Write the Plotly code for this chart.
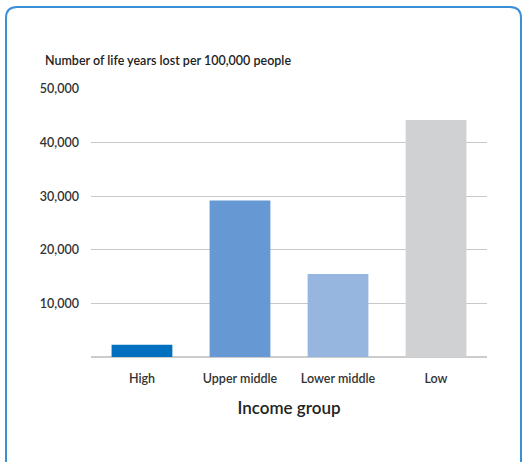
import plotly.graph_objects as go

categories = ["High", "Upper middle", "Lower middle", "Low"]
values = [2300, 29200, 15500, 44200]
bar_colors = ["#0070bf", "#6699d3", "#97b6df", "#d0d1d3"]
tick_vals = [10000, 20000, 30000, 40000, 50000]
tick_text = ["10,000", "20,000", "30,000", "40,000", "50,000"]
y_title = "Number of life years lost per 100,000 people"
x_title = "Income group"

W, H = 523, 462
L, R, T, B = 91, 36, 89, 105
pw, ph = W - L - R, H - T - B

def px(x):
    return (x - L) / pw

def py(y):
    return (H - B - y) / ph

FONT = "Lato"

fig = go.Figure(go.Bar(
    x=categories, y=values, marker=dict(color=bar_colors, line=dict(width=0)),
    width=0.62, hoverinfo="x+y",
))

# rounded border path
x0, y0, x1, y1, r = 6, 7, 521, 480, 11
path = (f"M {px(x0)},{py(y1)} L {px(x0)},{py(y0 + r)} "
        f"Q {px(x0)},{py(y0)} {px(x0 + r)},{py(y0)} "
        f"L {px(x1 - r)},{py(y0)} Q {px(x1)},{py(y0)} {px(x1)},{py(y0 + r)} "
        f"L {px(x1)},{py(y1)}")

fig.update_layout(
    width=W, height=H,
    margin=dict(l=L, r=R, t=T, b=B, pad=0),
    paper_bgcolor="white", plot_bgcolor="white",
    font=dict(family=FONT, color="#333333", size=12),
    showlegend=False,
    shapes=[dict(type="path", path=path, xref="paper", yref="paper",
                 line=dict(color="#3a8fd6", width=2), layer="above")],
    annotations=[dict(text=y_title, xref="paper", yref="paper",
                      x=px(43), y=py(61), xanchor="left", yanchor="middle",
                      showarrow=False, font=dict(size=12.5, color="#222222", family=FONT, weight=600))],
    xaxis=dict(
        range=[-0.52, 3.52],
        showgrid=False, showline=False, ticks="",
        tickfont=dict(size=12.5, color="#333333", weight=600),
        ticklabelstandoff=12,
        title=dict(text=x_title, font=dict(size=17, color="#222222", weight=600), standoff=17),
    ),
    yaxis=dict(
        range=[0, 50000], tickvals=tick_vals, ticktext=tick_text,
        showgrid=True, gridcolor="#c8c8c8", gridwidth=1,
        zeroline=True, zerolinecolor="#cccccc", zerolinewidth=2,
        showline=False, ticks="", ticklabelstandoff=11,
        tickfont=dict(size=12.5, color="#333333", weight=600),
    ),
)

fig.write_html("out.html", config={"displayModeBar": False},
               post_script="document.body.style.margin='0px';document.body.style.overflow='hidden';")
